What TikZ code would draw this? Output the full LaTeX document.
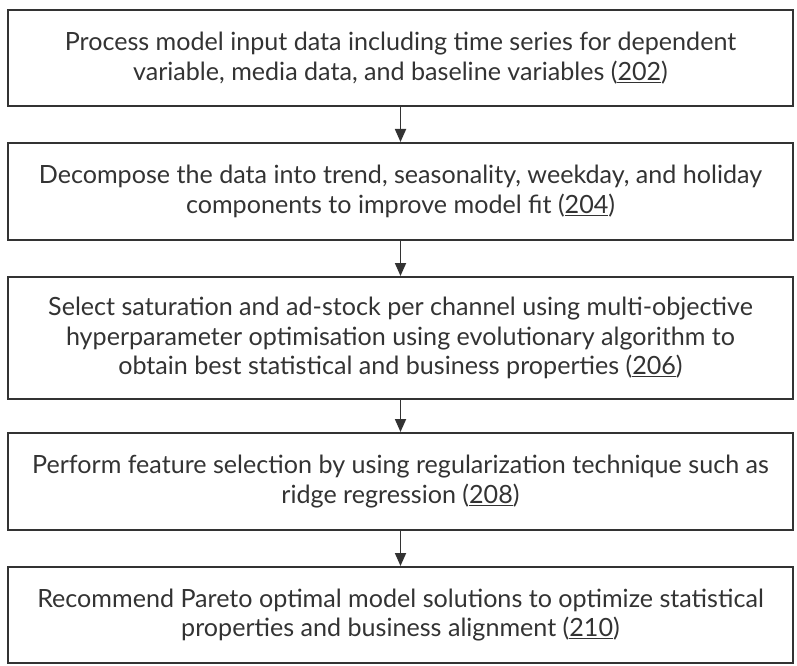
\documentclass[tikz,border=0pt]{standalone}
\usepackage{fontspec}
\setmainfont{Lato}
\usetikzlibrary{arrows.meta}
\definecolor{txt}{HTML}{333333}
\definecolor{edge}{HTML}{333333}
\tikzset{
  stepbox/.style={draw=edge, line width=2bp, minimum width=785bp, inner sep=0pt,
    align=center, text=txt, font=\fontsize{25.2}{30}\selectfont},
  flow/.style={draw=edge, line width=1.8bp, -{Triangle[length=13bp,width=11bp]}}
}
\begin{document}
\begin{tikzpicture}[x=1bp,y=-1bp]
\useasboundingbox (0,0) rectangle (797,666);
\node[stepbox, minimum height=96bp] (b1) at (400.5,58) {Process model input data including time series for dependent\\variable, media data, and baseline variables (\underline{202})};
\node[stepbox, minimum height=97bp] (b2) at (400.5,191.5) {Decompose the data into trend, seasonality, weekday, and holiday\\components to improve model fit (\underline{204})};
\node[stepbox, minimum height=122bp] (b3) at (400.5,338) {Select saturation and ad-stock per channel using multi-objective\\hyperparameter optimisation using evolutionary algorithm to\\obtain best statistical and business properties (\underline{206})};
\node[stepbox, minimum height=97bp] (b4) at (400.5,481.5) {Perform feature selection by using regularization technique such as\\ridge regression (\underline{208})};
\node[stepbox, minimum height=96bp] (b5) at (400.5,615) {Recommend Pareto optimal model solutions to optimize statistical\\properties and business alignment (\underline{210})};
\draw[flow] (b1) -- (b2);
\draw[flow] (b2) -- (b3);
\draw[flow] (b3) -- (b4);
\draw[flow] (b4) -- (b5);
\end{tikzpicture}
\end{document}
